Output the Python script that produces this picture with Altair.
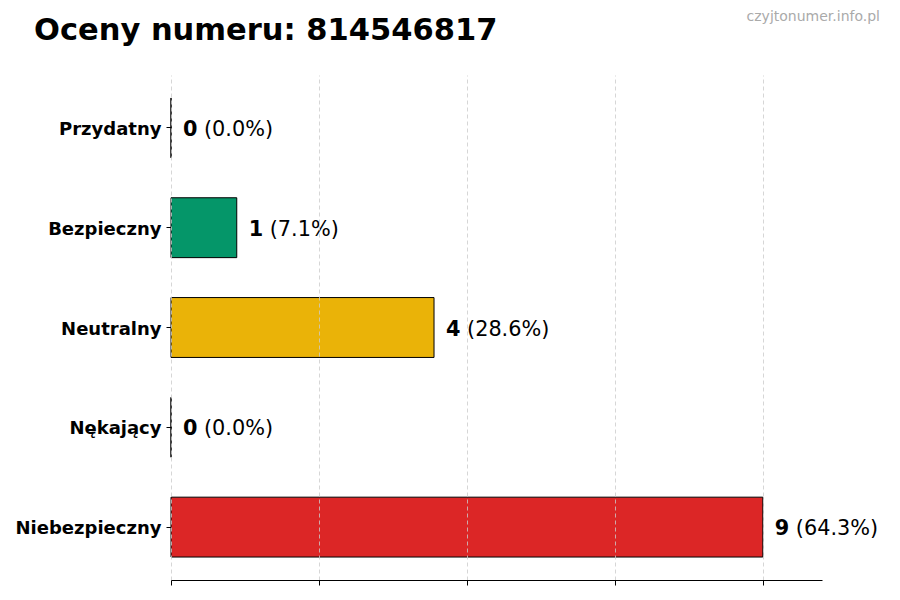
import altair as alt
import pandas as pd

categories = ["Przydatny", "Bezpieczny", "Neutralny", "Nękający", "Niebezpieczny"]
counts = [0, 1, 4, 0, 9]
bar_colors = ["#2563eb", "#059669", "#eab308", "#ea580c", "#dc2626"]
tick_values = [0, 2.25, 4.5, 6.75, 9]
title_text = "Oceny numeru: 814546817"
watermark = "czyjtonumer.info.pl"

total = sum(counts)
df = pd.DataFrame({
    "cat": categories,
    "count": counts,
    "num": [str(c) for c in counts],
    "pct": ["({:.1f}%)".format(100 * c / total) for c in counts],
})

W, H = 651, 505
FONT = "DejaVu Sans"

y_enc = alt.Y("cat:N", sort=categories,
              scale=alt.Scale(paddingInner=0.4, paddingOuter=0.23),
              axis=alt.Axis(title=None, domain=False, ticks=True, tickSize=5,
                            tickColor="black", labelPadding=5, labelOffset=2,
                            labelFont=FONT, labelFontSize=18, labelFontWeight="bold",
                            labelColor="black"))
x_scale = alt.Scale(domain=[0, 9.9], nice=False, zero=True)
x_axis = alt.Axis(title=None, labels=False, values=tick_values, domain=True,
                  domainColor="black", domainWidth=1, ticks=True, tickSize=5,
                  tickColor="black", grid=True, gridColor="#cccccc", gridDash=[4, 3],
                  gridWidth=0.8, zindex=1)

base = alt.Chart(df)

bars = base.mark_bar(stroke="black", strokeWidth=1).encode(
    x=alt.X("count:Q", scale=x_scale, axis=x_axis),
    y=y_enc,
    color=alt.Color("cat:N", scale=alt.Scale(domain=categories, range=bar_colors), legend=None),
)

num_text = base.mark_text(align="left", baseline="middle", dx=12, dy=2, font=FONT,
                          fontSize=20.8, fontWeight="bold", color="black").encode(
    x=alt.X("count:Q", scale=x_scale),
    y=alt.Y("cat:N", sort=categories),
    text="num:N",
)

pct_text = base.mark_text(align="left", baseline="middle", dx=33, dy=2, font=FONT,
                          fontSize=20.8, color="black").encode(
    x=alt.X("count:Q", scale=x_scale),
    y=alt.Y("cat:N", sort=categories),
    text="pct:N",
)

wm = alt.Chart(pd.DataFrame({"a": [0]})).mark_text(
    text=watermark, align="right", baseline="middle", font=FONT, fontSize=14,
    color="#aaaaaa").encode(x=alt.value(709), y=alt.value(-58))

chart = alt.layer(bars, num_text, pct_text, wm).properties(
    width=W, height=H,
    title=alt.TitleParams(title_text, anchor="start", frame="group", dx=-137,
                          offset=0, dy=60, baseline="alphabetic", font=FONT, fontSize=30.5,
                          fontWeight="bold", color="black"),
    autosize=alt.AutoSizeParams(type="none"),
    padding={"left": 163, "top": 67, "right": 70, "bottom": 12},
).configure_view(stroke=None)

chart.save("out.html", embed_options={"renderer": "svg", "actions": False})
